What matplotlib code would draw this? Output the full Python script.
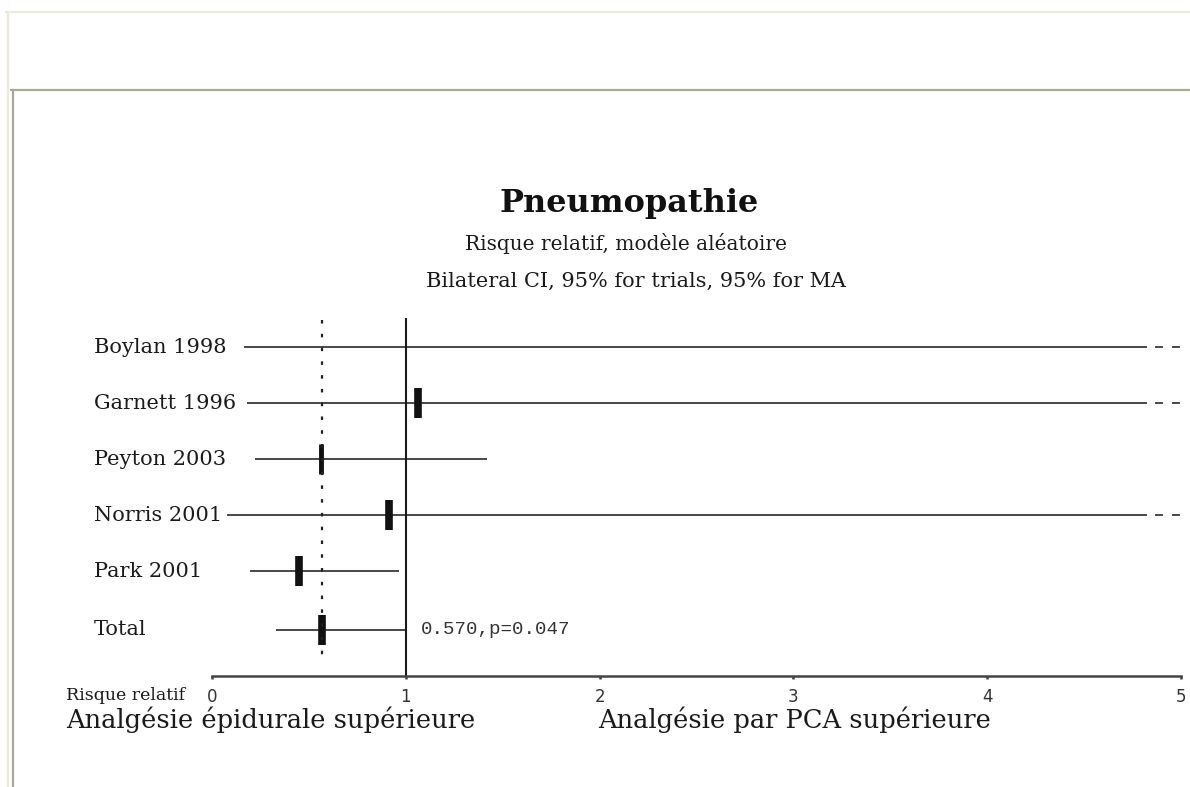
#!/usr/bin/env python3
"""Forest plot: pneumopathie, risque relatif (random-effects model)."""

import numpy as np
import matplotlib

matplotlib.use("Agg")
import matplotlib.pyplot as plt
from matplotlib.lines import Line2D

W, H = 1190, 787

studies = ["Boylan 1998", "Garnett 1996", "Peyton 2003", "Norris 2001", "Park 2001", "Total"]
rr = [np.nan, 1.063, 0.562, 0.913, 0.449, 0.570]
ci_low = [0.165, 0.18, 0.222, 0.077, 0.196, 0.33]
ci_high = [np.inf, np.inf, 1.419, np.inf, 0.965, 1.0]
pooled_rr = 0.570
pooled_p = 0.047
xticks = [0, 1, 2, 3, 4, 5]

serif = ["DejaVu Serif"]
ink = "#1a1a1a"


def fx(px):
    return px / W


def fy(py):
    return 1 - py / H


fig = plt.figure(figsize=(W / 100, H / 100), dpi=100)
fig.patch.set_facecolor("white")

# window frame lines of the original screenshot
fig.add_artist(Line2D([fx(6), 1], [fy(12), fy(12)], color="#ece9d8", lw=1.6))
fig.add_artist(Line2D([fx(7.5), fx(7.5)], [fy(12), 0], color="#ece9d8", lw=1.6))
fig.add_artist(Line2D([fx(11), 1], [fy(90), fy(90)], color="#aca899", lw=1.6))
fig.add_artist(Line2D([fx(12.7), fx(12.7)], [fy(90), 0], color="#aca899", lw=1.6))

# axes: x=0 at 212px, x=5 at 1181px; top 318px, axis line 676px
ax = fig.add_axes([fx(212), fy(676), fx(1181) - fx(212), fy(318) - fy(676)])
ax.set_xlim(0, 5)
n = len(studies)
ypos = np.arange(n, dtype=float)
ypos[-1] += 0.05
ax.set_ylim(5.875, -0.518)
for s in ["top", "left", "right"]:
    ax.spines[s].set_visible(False)
ax.spines["bottom"].set_linewidth(1.8)
ax.spines["bottom"].set_color("#444444")
ax.set_yticks([])
ax.set_xticks(xticks)
ax.tick_params(axis="x", length=2.5, width=1.8, pad=6, labelsize=12, colors="#444444")
for lab in ax.get_xticklabels():
    lab.set_color("#333333")
ax.patch.set_alpha(0)

xmax = xticks[-1]
solid_end = 4.825
dash_start = 4.866
for i in range(n):
    y = ypos[i]
    hi = ci_high[i]
    if np.isfinite(hi):
        ax.plot([ci_low[i], hi], [y, y], color="#3a3a3a", lw=1.3, solid_capstyle="butt")
    else:
        ax.plot([ci_low[i], solid_end], [y, y], color="#3a3a3a", lw=1.3, solid_capstyle="butt")
        ax.plot([dash_start, xmax], [y, y], color="#3a3a3a", lw=1.3, ls=(0, (4.4, 5)),
                dash_capstyle="butt")
    if np.isfinite(rr[i]):
        mew = 3.5 if studies[i] == "Peyton 2003" else 5.5
        ax.plot([rr[i]], [y], marker="|", ms=22, mew=mew, color="#111111")
    ax.text(-0.61, y, studies[i], ha="left", va="center", fontsize=15,
            family=serif, color=ink, transform=ax.transData, clip_on=False)

ax.axvline(1, ymin=0, ymax=1, color=ink, lw=1.5)
ax.plot([pooled_rr, pooled_rr], [-0.48, 5.59], color="#222222", lw=1.6, ls=(0, (1.6, 4.6)))
ax.text(1.08, ypos[-1], "{:.3f},p={:.3f}".format(pooled_rr, pooled_p), ha="left", va="center",
        fontsize=13.8, family=["Liberation Mono"], color="#333333")

fig.text(fx(629), fy(203), "Pneumopathie", ha="center", va="center", fontsize=23,
         fontweight="bold", family=serif, color="#111111")
fig.text(fx(626), fy(243), "Risque relatif, modèle aléatoire", ha="center", va="center",
         fontsize=14.5, family=serif, color=ink)
fig.text(fx(636), fy(281), "Bilateral CI, 95% for trials, 95% for MA", ha="center", va="center",
         fontsize=15, family=serif, color=ink)
fig.text(fx(66), fy(695), "Risque relatif", ha="left", va="center", fontsize=12.5,
         family=serif, color=ink)
fig.text(fx(66), fy(720), "Analgésie épidurale supérieure", ha="left", va="center",
         fontsize=18.5, family=serif, color=ink)
fig.text(fx(598), fy(720), "Analgésie par PCA supérieure", ha="left", va="center",
         fontsize=18.5, family=serif, color=ink)

fig.savefig("out.png", dpi=100)
